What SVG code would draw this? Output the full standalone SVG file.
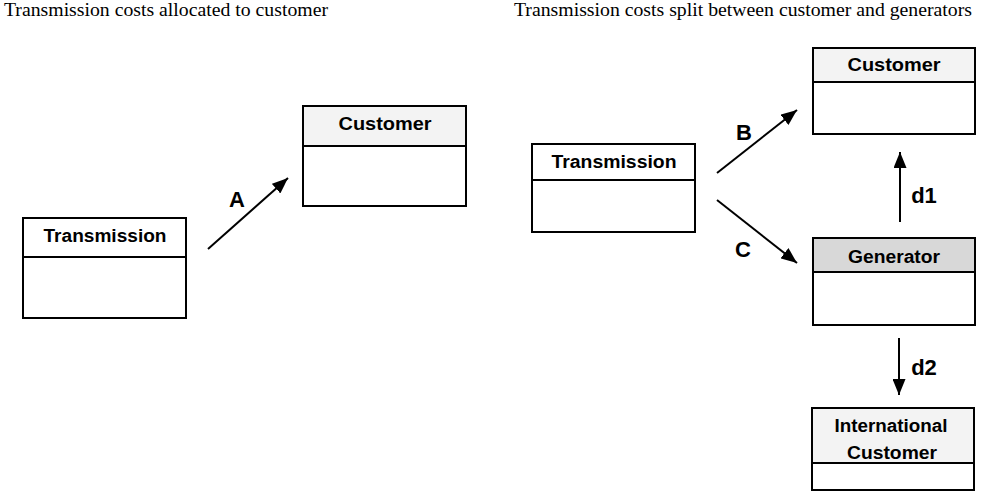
<svg xmlns="http://www.w3.org/2000/svg" width="1006" height="491" viewBox="0 0 1006 491">
<defs>
<style>
.box{fill:#fff;stroke:#000;stroke-width:2}
.band{stroke:#000;stroke-width:2}
.light{fill:#f3f3f3}
.dark{fill:#d8d8d8}
.white{fill:#fff}
.head{font-family:"Liberation Serif","Times New Roman",serif;font-size:19px;fill:#000}
.title{font-family:"Liberation Sans",Arial,sans-serif;font-weight:bold;font-size:18px;fill:#000;text-anchor:middle}
.lbl{font-family:"Liberation Sans",Arial,sans-serif;font-weight:bold;font-size:22px;fill:#000;text-anchor:middle}
.arr{stroke:#000;stroke-width:2;fill:none;marker-end:url(#ah)}
</style>
<marker id="ah" markerUnits="userSpaceOnUse" markerWidth="17" markerHeight="13" refX="16" refY="6.5" orient="auto">
<path d="M0,0 L16,6.5 L0,13 z" fill="#000"/>
</marker>
</defs>
<rect width="1006" height="491" fill="#fff"/>
<text class="head" x="4" y="16" textLength="324" lengthAdjust="spacingAndGlyphs">Transmission costs allocated to customer</text>
<text class="head" x="514" y="16" textLength="458" lengthAdjust="spacingAndGlyphs">Transmission costs split between customer and generators</text>

<g id="left-transmission">
<rect class="box" x="23" y="218" width="163" height="100"/>
<rect class="band white" x="23" y="218" width="163" height="39"/>
<text class="title" x="105" y="242" textLength="123" lengthAdjust="spacingAndGlyphs">Transmission</text>
</g>
<g id="left-customer">
<rect class="box" x="303" y="106" width="163" height="100"/>
<rect class="band light" x="303" y="106" width="163" height="40"/>
<text class="title" x="385" y="130" textLength="93" lengthAdjust="spacingAndGlyphs">Customer</text>
</g>
<g id="right-transmission">
<rect class="box" x="532" y="144" width="163" height="88"/>
<rect class="band white" x="532" y="144" width="163" height="36"/>
<text class="title" x="614" y="168" textLength="125" lengthAdjust="spacingAndGlyphs">Transmission</text>
</g>
<g id="right-customer">
<rect class="box" x="813" y="48" width="162" height="86"/>
<rect class="band light" x="813" y="48" width="162" height="34"/>
<text class="title" x="894" y="71" textLength="93" lengthAdjust="spacingAndGlyphs">Customer</text>
</g>
<g id="generator">
<rect class="box" x="813" y="238" width="162" height="87"/>
<rect class="band dark" x="813" y="238" width="162" height="34"/>
<text class="title" x="894" y="263" textLength="92" lengthAdjust="spacingAndGlyphs">Generator</text>
</g>
<g id="international-customer">
<rect class="box" x="812" y="408" width="162" height="82"/>
<rect class="band light" x="812" y="408" width="162" height="55"/>
<text class="title" x="891" y="432" textLength="113" lengthAdjust="spacingAndGlyphs">International</text>
<text class="title" x="892" y="459" textLength="90" lengthAdjust="spacingAndGlyphs">Customer</text>
</g>

<g id="connectors">
<line class="arr" x1="208" y1="249" x2="288" y2="178"/>
<text class="lbl" x="237" y="207">A</text>
<line class="arr" x1="717" y1="173" x2="797" y2="110"/>
<text class="lbl" x="744" y="140">B</text>
<line class="arr" x1="717" y1="200" x2="797" y2="263"/>
<text class="lbl" x="743" y="257">C</text>
<line class="arr" x1="900" y1="222" x2="900" y2="152"/>
<text class="lbl" x="924" y="203">d1</text>
<line class="arr" x1="899" y1="338" x2="899" y2="395"/>
<text class="lbl" x="924" y="375">d2</text>
</g>
</svg>
